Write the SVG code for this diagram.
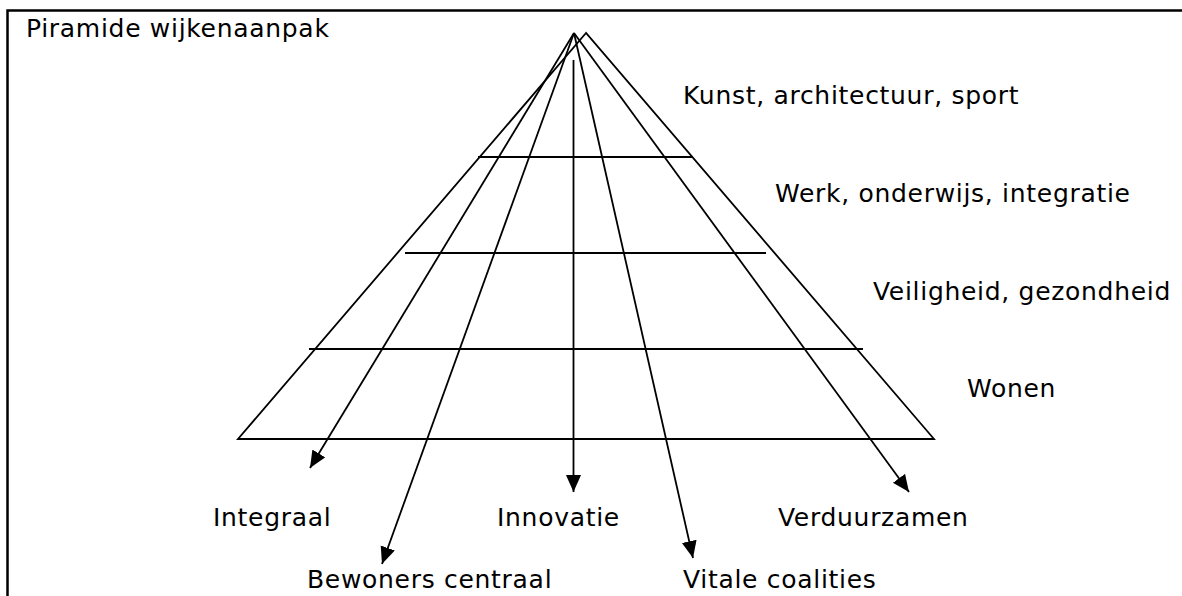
<svg xmlns="http://www.w3.org/2000/svg" width="1182" height="596" viewBox="0 0 1182 596">
  <style>
    .ln { stroke: #000; stroke-width: 1.8; fill: none; }
    .t { font-family: "DejaVu Sans", Verdana, sans-serif; font-size: 25px; letter-spacing: 0.7px; fill: #000; }
  </style>
  <defs>
    <marker id="arr" markerUnits="userSpaceOnUse" markerWidth="18" markerHeight="16" refX="17" refY="7.5" orient="auto">
      <path d="M0,0 L17,7.5 L0,15 z" fill="#000"/>
    </marker>
  </defs>
  <rect width="1182" height="596" fill="#fff"/>
  <rect id="frame" x="7.5" y="10.5" width="1200" height="620" fill="none" stroke="#000" stroke-width="2.5"/>
  <g id="title"><text class="t" x="26" y="37">Piramide wijkenaanpak</text></g>
  <g id="pyramid">
    <path class="ln" d="M586,33 L238,439 L934,439 Z"/>
    <line class="ln" x1="478" y1="157" x2="693" y2="157"/>
    <line class="ln" x1="405" y1="253" x2="766" y2="253"/>
    <line class="ln" x1="309" y1="349" x2="863" y2="349"/>
  </g>
  <g id="level-kunst"><text class="t" x="683" y="104">Kunst, architectuur, sport</text></g>
  <g id="level-werk"><text class="t" x="775" y="202">Werk, onderwijs, integratie</text></g>
  <g id="level-veiligheid"><text class="t" x="873" y="300">Veiligheid, gezondheid</text></g>
  <g id="level-wonen"><text class="t" x="967" y="397">Wonen</text></g>
  <g id="connectors">
    <line class="ln" x1="574" y1="33" x2="310" y2="468" marker-end="url(#arr)"/>
    <line class="ln" x1="574" y1="33" x2="382" y2="564" marker-end="url(#arr)"/>
    <line class="ln" x1="573.5" y1="60" x2="573.5" y2="492" marker-end="url(#arr)"/>
    <line class="ln" x1="574" y1="33" x2="693" y2="558" marker-end="url(#arr)"/>
    <line class="ln" x1="574" y1="33" x2="909" y2="492" marker-end="url(#arr)"/>
  </g>
  <g id="integraal"><text class="t" x="213" y="526">Integraal</text></g>
  <g id="innovatie"><text class="t" x="497" y="526">Innovatie</text></g>
  <g id="verduurzamen"><text class="t" x="778" y="526">Verduurzamen</text></g>
  <g id="bewoners"><text class="t" x="307" y="588">Bewoners centraal</text></g>
  <g id="vitale"><text class="t" x="683" y="588">Vitale coalities</text></g>
</svg>
